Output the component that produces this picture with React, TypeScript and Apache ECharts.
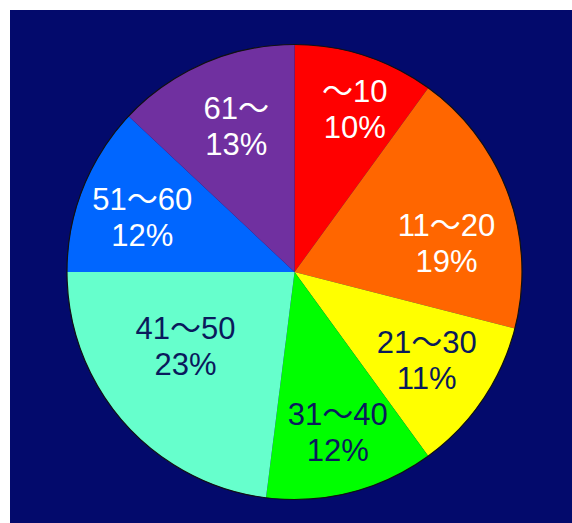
import React, { useEffect, useRef } from "react";
import * as echarts from "echarts";

// Age bands and their share of respondents (percent)
const categories = ["～10", "11～20", "21～30", "31～40", "41～50", "51～60", "61～"];
const shares = [10, 19, 11, 12, 23, 12, 13];

const sliceColors = ["#ff0000", "#ff6600", "#ffff00", "#00ff00", "#66ffcc", "#0066ff", "#7030a0"];
const labelColors = ["#ffffff", "#ffffff", "#0a1a5c", "#0a1a5c", "#0a1a5c", "#ffffff", "#ffffff"];

// Label placement inside each slice: distance from centre (fraction of radius)
// and a small turn (degrees) away from the slice's mid-angle.
const labelRadius = [0.76, 0.68, 0.7, 0.73, 0.58, 0.71, 0.69];
const labelTurn = [2.4, 9.1, -0.3, -0.7, 7.1, -2.0, 1.6];

const WIDTH = 562;
const HEIGHT = 513;
const CX = 284.5;
const CY = 262;
const R = 227.5;

const FONT = 'Arial, "Liberation Sans", "Noto Sans CJK JP", sans-serif';

export default function App() {
  const ref = useRef<HTMLDivElement>(null);

  useEffect(() => {
    if (!ref.current) return;
    const chart = echarts.init(ref.current, null, { renderer: "svg" });
    const total = shares.reduce((a, b) => a + b, 0);

    const data = categories.map((name, i) => ({
      name,
      value: shares[i],
      itemStyle: { color: sliceColors[i] },
      label: { color: labelColors[i] },
    }));

    chart.setOption({
      animation: false,
      backgroundColor: "#030a6c",
      series: [
        {
          type: "pie",
          center: [CX, CY],
          radius: [0, R],
          startAngle: 90,
          clockwise: true,
          avoidLabelOverlap: false,
          silent: true,
          itemStyle: { borderWidth: 0 },
          emphasis: { disabled: true },
          label: {
            show: true,
            position: "inside",
            fontFamily: FONT,
            fontSize: 31,
            lineHeight: 36,
            align: "center",
            formatter: (p: any) => `${p.name}\n${p.value}%`,
          },
          labelLine: { show: false },
          labelLayout: (params: any) => {
            const i = params.dataIndex;
            let before = 0;
            for (let k = 0; k < i; k++) before += shares[k];
            const mid = ((before + shares[i] / 2) / total) * 360 + labelTurn[i];
            const rad = (mid * Math.PI) / 180;
            const r = R * labelRadius[i];
            return {
              x: CX + r * Math.sin(rad),
              y: CY - r * Math.cos(rad),
              align: "center",
              verticalAlign: "middle",
            };
          },
          data,
        },
        {
          // thin dark rim around the whole pie
          type: "pie",
          center: [CX, CY],
          radius: [0, R],
          silent: true,
          z: 3,
          emphasis: { disabled: true },
          label: { show: false },
          labelLine: { show: false },
          itemStyle: { color: "transparent", borderColor: "#111111", borderWidth: 1.2 },
          data: [{ value: 1, name: "" }],
        },
      ],
    });

    return () => chart.dispose();
  }, []);

  return (
    <div
      ref={ref}
      style={{ position: "absolute", left: 10, top: 10, width: WIDTH, height: HEIGHT }}
    />
  );
}
